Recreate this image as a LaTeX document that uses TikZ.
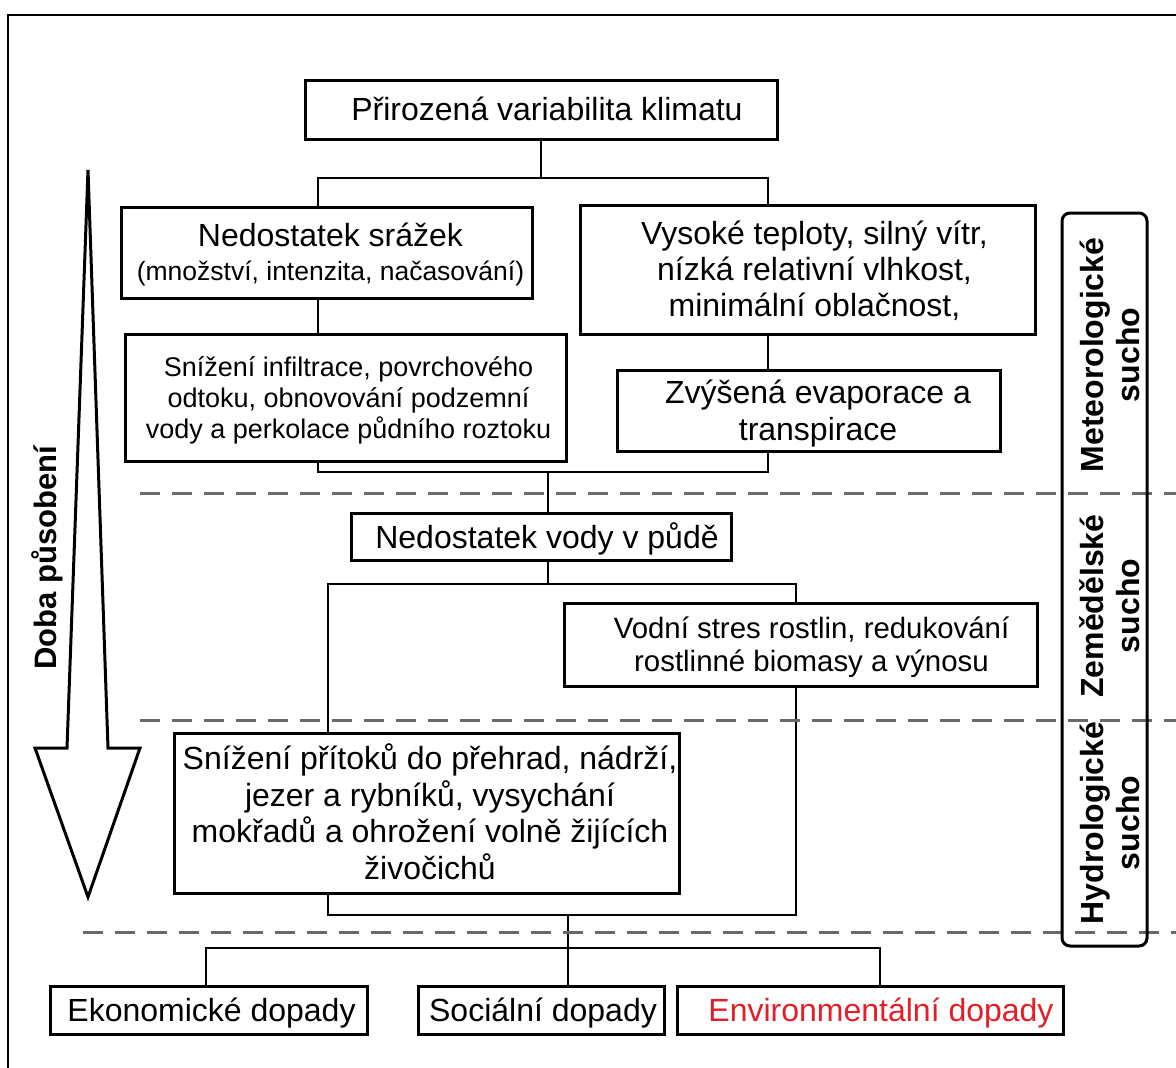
\documentclass[tikz,border=0pt]{standalone}
\usepackage{fontspec}
\setmainfont{Liberation Sans}
\usetikzlibrary{positioning}
\definecolor{envred}{RGB}{228,30,38}
\definecolor{sepgray}{RGB}{105,105,105}
\newcommand{\fsz}[2]{\fontsize{#1}{#2}\selectfont}
% text block pushed right by half of #1 and a little down
\newcommand{\txt}[2]{\hspace*{#1}\raisebox{-4pt}[\height][\depth]{\begin{tabular}{@{}c@{}}#2\end{tabular}}}

\begin{document}
\begin{tikzpicture}[x=1pt,y=-1pt]
\tikzstyle{box}=[rectangle, draw=black, line width=3pt, inner sep=2pt, align=center, font=\fsz{32}{36}]
\tikzstyle{connect}=[line width=2.8pt]
\tikzstyle{sep}=[draw=sepgray, line width=3pt, dash pattern=on 20pt off 12pt]
\tikzstyle{phase}=[rotate=90, align=center, font=\bfseries\fsz{32}{36}]
\useasboundingbox (0,0) rectangle (1176,1068);
\draw[line width=2.5pt] (8,1068) -- (8,15) -- (1176,15);

	% boxes
	\node[box, minimum width=472, minimum height=59] (klima) at (541,109.5) {\txt{12pt}{Přirozená variabilita klimatu}};
	\node[box, minimum width=411, minimum height=91] (srazky) at (326.5,252.5) {\txt{8pt}{Nedostatek srážek\\[-2pt]{\fsz{26.5}{32}(množství, intenzita, načasování)}}};
	\node[box, minimum width=455, minimum height=129] (teploty) at (807.5,269.5) {\txt{14pt}{Vysoké teploty, silný vítr,\\nízká relativní vlhkost,\\minimální oblačnost,}};
	\node[box, minimum width=441, minimum height=127, font=\fsz{27}{30.5}] (infiltrace) at (345.5,397.5) {\txt{6pt}{Snížení infiltrace, povrchového\\odtoku, obnovování podzemní\\vody a perkolace půdního roztoku}};
	\node[box, minimum width=383, minimum height=81, font=\fsz{32}{37}] (evapo) at (808.5,410.5) {\txt{19pt}{Zvýšená evaporace a\\transpirace}};
	\node[box, minimum width=380, minimum height=47] (puda) at (541,536.5) {\txt{12pt}{Nedostatek vody v půdě}};
	\node[box, minimum width=473, minimum height=83, font=\fsz{29.4}{33}] (stres) at (800.5,644.5) {\txt{22pt}{Vodní stres rostlin, redukování\\rostlinné biomasy a výnosu}};
	\node[box, minimum width=504, minimum height=160] (pritoky) at (427,813) {\txt{6pt}{Snížení přítoků do přehrad, nádrží,\\jezer a rybníků, vysychání\\mokřadů a ohrožení volně žijících\\živočichů}};
	\node[box, minimum width=317, minimum height=48] (ekon) at (208.5,1010) {\txt{6pt}{Ekonomické dopady}};
	\node[box, minimum width=246, minimum height=48] (soc) at (541,1010) {\txt{4pt}{Sociální dopady}};
	\node[box, minimum width=386, minimum height=48, text=envred] (env) at (870,1010) {\txt{22pt}{Environmentální dopady}};

	% junctions
	\coordinate (aL) at (318,178); \coordinate (aR) at (768,178);
	\coordinate (bL) at (318,472); \coordinate (bR) at (768,472); \coordinate (bM) at (548,472);
	\coordinate (cL) at (328,584); \coordinate (cR) at (796,584); \coordinate (cM) at (548,584);
	\coordinate (dL) at (328,915); \coordinate (dR) at (796,915); \coordinate (dM) at (568,915);
	\coordinate (eL) at (206,948); \coordinate (eR) at (880,948); \coordinate (eM) at (568,948);

	\draw[connect] (klima.south) -- (klima.south |- aL);
	\draw[connect] (srazky.north -| aL) -- (aL) -- (aR) -- (teploty.north -| aR);
	\draw[connect] (srazky.south -| aL) -- (infiltrace.north -| aL);
	\draw[connect] (teploty.south -| aR) -- (evapo.north -| aR);
	\draw[connect] (infiltrace.south -| bL) -- (bL) -- (bR) -- (evapo.south -| bR);
	\draw[connect] (bM) -- (puda.north -| bM);
	\draw[connect] (puda.south -| cM) -- (cM);
	\draw[connect] (pritoky.north -| cL) -- (cL) -- (cR) -- (stres.north -| cR);
	\draw[connect] (pritoky.south -| dL) -- (dL) -- (dR) -- (stres.south -| dR);
	\draw[connect] (dM) -- (soc.north -| dM);
	\draw[connect] (ekon.north -| eL) -- (eL) -- (eR) -- (env.north -| eR);

	% drought phases
	\draw[sep] (140,493) -- (1176,493);
	\draw[sep] (140,720) -- (1176,720);
	\draw[sep] (83,932) -- (1176,932);
	\draw[line width=3pt, rounded corners=8pt] (1062,213) rectangle (1147,946);
	\node[phase] (meteo) at (1110,355) {Meteorologické\\sucho};
	\node[phase] (zemed) at (1110,606) {Zemědělské\\sucho};
	\node[phase] (hydro) at (1110,823) {Hydrologické\\sucho};

	% time arrow
	\draw[line width=3pt, line join=miter] (88,170) -- (108,748) -- (140,748) -- (88,897) -- (35,748) -- (67,748) -- cycle;
	\node[rotate=90, font=\bfseries\fsz{31}{36}] (doba) at (47,558) {Doba působení};
\end{tikzpicture}
\end{document}
